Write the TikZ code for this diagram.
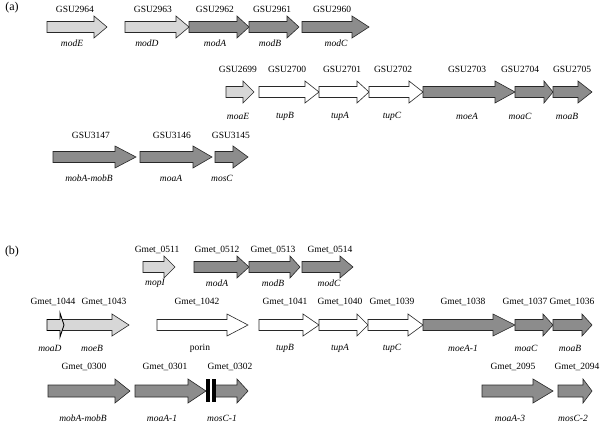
\documentclass[tikz,border=0pt]{standalone}
\usepackage{fontspec}
\setmainfont{Liberation Serif}
\definecolor{lightg}{RGB}{215,215,215}
\definecolor{darkg}{RGB}{140,140,140}
\definecolor{edge}{RGB}{40,40,40}
\newcommand{\bh}{5.5}
\newcommand{\hh}{11}
% style, x start, head start, tip, y centre
\newcommand{\gene}[5]{\draw[genebox,#1] (#2,#5-\bh) -- (#3,#5-\bh) -- (#3,#5-\hh) -- (#4,#5) -- (#3,#5+\hh) -- (#3,#5+\bh) -- (#2,#5+\bh) -- cycle;}
\tikzset{
  genebox/.style={draw=edge,line width=0.6pt,line join=miter},
  lt/.style={fill=lightg},
  dk/.style={fill=darkg},
  wt/.style={fill=white},
  idlbl/.style={font=\fontsize{9.5}{11}\selectfont,inner sep=0pt},
  nmlbl/.style={font=\fontsize{9.5}{11}\selectfont\itshape,inner sep=0pt},
  panel/.style={font=\fontsize{12}{14}\selectfont,inner sep=0pt}
}
\begin{document}
\begin{tikzpicture}[x=1pt,y=-1pt]
\useasboundingbox[fill=white] (0,0) rectangle (600,428);
\node[panel] (pa) at (12,8) {(a)};
\node[panel] (pb) at (12,252) {(b)};
% ---------- (a) row 1
\gene{lt}{47}{94}{107}{27}
\gene{lt}{125}{176}{189}{27}
\gene{dk}{189}{237}{249}{27}
\gene{dk}{249}{287}{299}{27}
\gene{dk}{302}{352}{369}{27}
\node[idlbl] (a1) at (75,9) {GSU2964};
\node[idlbl] (a2) at (153,9) {GSU2963};
\node[idlbl] (a3) at (215,9) {GSU2962};
\node[idlbl] (a4) at (272,9) {GSU2961};
\node[idlbl] (a5) at (332,9) {GSU2960};
\node[nmlbl] (n1) at (72,43) {modE};
\node[nmlbl] (n2) at (147,43) {modD};
\node[nmlbl] (n3) at (215,43) {modA};
\node[nmlbl] (n4) at (270,43) {modB};
\node[nmlbl] (n5) at (336,43) {modC};
% ---------- (a) row 2
\gene{lt}{226}{243}{254}{92}
\gene{wt}{259}{305}{319}{92}
\gene{wt}{319}{357}{369}{92}
\gene{wt}{369}{409}{423}{92}
\gene{dk}{423}{495}{515}{92}
\gene{dk}{515}{544}{553}{92}
\gene{dk}{553}{578}{592}{92}
\node[idlbl] (b1) at (238,69) {GSU2699};
\node[idlbl] (b2) at (287,69) {GSU2700};
\node[idlbl] (b3) at (342,69) {GSU2701};
\node[idlbl] (b4) at (393,69) {GSU2702};
\node[idlbl] (b5) at (467,69) {GSU2703};
\node[idlbl] (b6) at (520,69) {GSU2704};
\node[idlbl] (b7) at (572,69) {GSU2705};
\node[nmlbl] (m1) at (238,116) {moaE};
\node[nmlbl] (m2) at (285,116) {tupB};
\node[nmlbl] (m3) at (340,116) {tupA};
\node[nmlbl] (m4) at (392,116) {tupC};
\node[nmlbl] (m5) at (467,116) {moeA};
\node[nmlbl] (m6) at (520,116) {moaC};
\node[nmlbl] (m7) at (567,116) {moaB};
% ---------- (a) row 3
\gene{dk}{53}{115}{136}{157}
\gene{dk}{140}{193}{212}{157}
\gene{dk}{215}{233}{248}{157}
\node[idlbl] (c1) at (91,135) {GSU3147};
\node[idlbl] (c2) at (172,135) {GSU3146};
\node[idlbl] (c3) at (231,135) {GSU3145};
\node[nmlbl] (k1) at (89,178) {mobA-mobB};
\node[nmlbl] (k2) at (171,178) {moaA};
\node[nmlbl] (k3) at (222,178) {mosC};
% ---------- (b) row 1
\gene{lt}{143}{164}{175}{267}
\gene{dk}{194}{237}{249}{267}
\gene{dk}{249}{290}{300}{267}
\gene{dk}{302}{340}{353}{267}
\node[idlbl] (d1) at (157,250) {Gmet\_0511};
\node[idlbl] (d2) at (217,250) {Gmet\_0512};
\node[idlbl] (d3) at (273,250) {Gmet\_0513};
\node[idlbl] (d4) at (330,250) {Gmet\_0514};
\node[nmlbl] (j1) at (155,283) {mopI};
\node[nmlbl] (j2) at (217,283) {modA};
\node[nmlbl] (j3) at (273,283) {modB};
\node[nmlbl] (j4) at (329,283) {modC};
% ---------- (b) row 2
\gene{lt}{61}{112}{129}{325}
{\renewcommand{\hh}{12}\gene{lt,line width=0.9pt,draw=black}{47}{60}{64}{325}}
\gene{wt}{157}{227}{248}{325}
\gene{wt}{259}{303}{319}{325}
\gene{wt}{319}{357}{368}{325}
\gene{wt}{368}{408}{423}{325}
\gene{dk}{423}{493}{515}{325}
\gene{dk}{515}{543}{553}{325}
\gene{dk}{553}{582}{592}{325}
\node[idlbl] (e1) at (53,302) {Gmet\_1044};
\node[idlbl] (e2) at (104,302) {Gmet\_1043};
\node[idlbl] (e3) at (197,302) {Gmet\_1042};
\node[idlbl] (e4) at (285,302) {Gmet\_1041};
\node[idlbl] (e5) at (340,302) {Gmet\_1040};
\node[idlbl] (e6) at (392,302) {Gmet\_1039};
\node[idlbl] (e7) at (463,302) {Gmet\_1038};
\node[idlbl] (e8) at (525,302) {Gmet\_1037};
\node[idlbl] (e9) at (572,302) {Gmet\_1036};
\node[nmlbl] (h1) at (50,348) {moaD};
\node[nmlbl] (h2) at (92,348) {moeB};
\node[idlbl] (h3) at (200,348) {porin};
\node[nmlbl] (h4) at (285,348) {tupB};
\node[nmlbl] (h5) at (340,348) {tupA};
\node[nmlbl] (h6) at (392,348) {tupC};
\node[nmlbl] (h7) at (463,348) {moeA-1};
\node[nmlbl] (h8) at (526,348) {moaC};
\node[nmlbl] (h9) at (570,348) {moaB};
% ---------- (b) row 3
\renewcommand{\bh}{6}\renewcommand{\hh}{12}
\gene{dk}{48}{115}{130}{391}
\gene{dk}{135}{188}{206}{391}
\gene{dk}{215}{237}{248}{391}
\gene{dk}{482}{533}{553}{391}
\gene{dk}{558}{583}{592}{391}
\fill[black] (206,379) rectangle (209.5,402);
\fill[black] (212,379) rectangle (215.5,402);
\node[idlbl] (f1) at (84,367) {Gmet\_0300};
\node[idlbl] (f2) at (165,367) {Gmet\_0301};
\node[idlbl] (f3) at (230,367) {Gmet\_0302};
\node[idlbl] (f4) at (513,367) {Gmet\_2095};
\node[idlbl] (f5) at (577,367) {Gmet\_2094};
\node[nmlbl] (g1) at (83,418) {mobA-mobB};
\node[nmlbl] (g2) at (162,418) {moaA-1};
\node[nmlbl] (g3) at (222,418) {mosC-1};
\node[nmlbl] (g4) at (510,418) {moaA-3};
\node[nmlbl] (g5) at (573,418) {mosC-2};
\end{tikzpicture}
\end{document}
